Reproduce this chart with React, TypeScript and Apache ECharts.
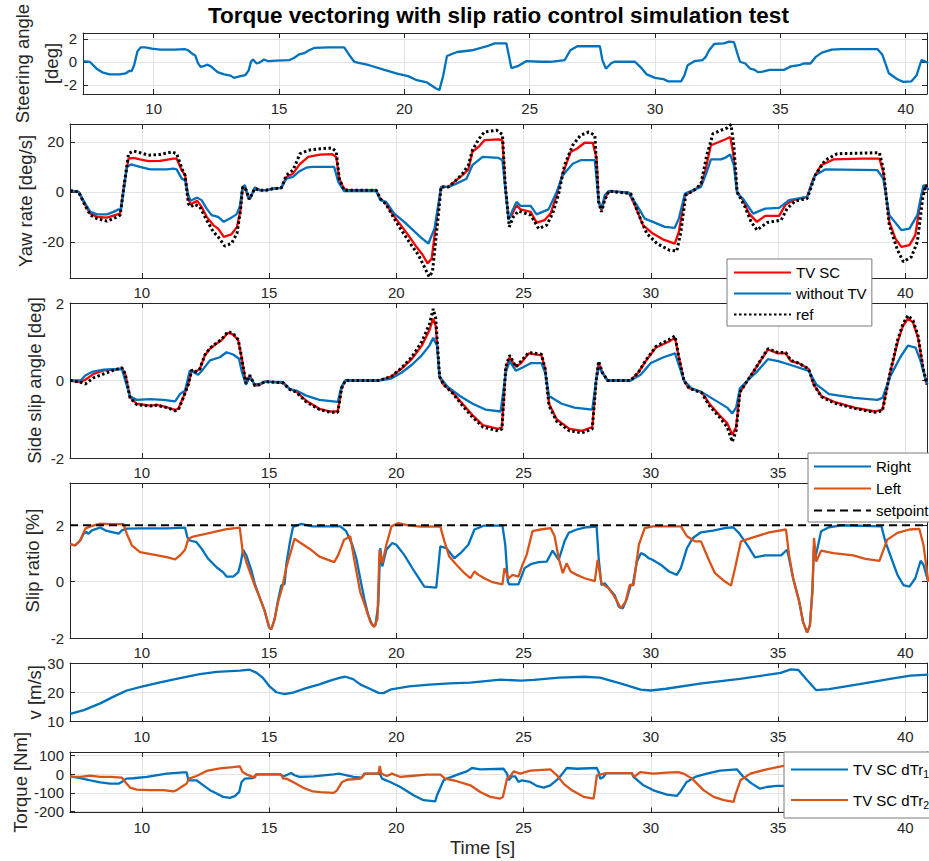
import React, { useEffect, useRef } from "react";
import * as echarts from "echarts";

type Pt = [number, number];

const FONT = "'Liberation Sans', Arial, Helvetica, sans-serif";
const X_MIN = 7.18;
const X_MAX = 40.85;

const chartTitle = "Torque vectoring with slip ratio control simulation test";

// Steering angle [deg]
const steeringAngle: Pt[] = [
  [7.19, 0.05], [7.45, 0], [7.72, -0.6], [7.98, -0.95], [8.24, -1.1], [8.63, -1.1], [8.89, -1.0], [9.02, -0.8], [9.12, -0.8],
  [9.22, -0.3], [9.35, 0.9], [9.48, 1.25], [9.67, 1.25], [9.93, 1.15], [10.26, 1.05], [10.85, 1.05], [11.24, 1.1], [11.37, 1.0],
  [11.57, 0.65], [11.66, 0.55], [11.76, -0.1], [11.87, -0.45], [12.02, -0.35], [12.15, -0.25], [12.28, -0.4], [12.55, -0.9],
  [12.81, -1.1], [13.07, -1.2], [13.2, -1.4], [13.46, -1.25], [13.66, -1.15], [13.79, -0.75], [13.88, 0], [13.96, 0.2],
  [14.11, -0.15], [14.24, -0.05], [14.4, 0.2], [14.57, 0.05], [14.9, 0.1], [15.42, 0.15], [15.61, 0.35], [15.81, 0.65],
  [16.0, 0.75], [16.2, 1.0], [16.4, 1.2], [16.98, 1.25], [17.6, 1.25], [17.8, 0.6], [18.0, 0], [18.6, -0.3], [19.2, -0.7],
  [19.75, -1.05], [20.15, -1.25], [20.5, -1.6], [20.9, -1.8], [21.25, -2.3], [21.4, -2.45], [21.55, -1.2], [21.7, 0.5],
  [22.1, 0.85], [22.7, 1.0], [23.3, 1.35], [23.6, 1.6], [24.07, 1.6], [24.27, -0.55], [24.55, -0.35], [24.86, 0.05],
  [25.45, 0], [25.83, 0], [26.4, 0.15], [26.62, 1.0], [26.9, 1.35], [27.8, 1.35], [27.9, 0.15], [28.04, -0.6], [28.24, -0.15],
  [28.37, 0], [29.2, 0], [29.48, -0.6], [29.67, -1.1], [30.0, -1.4], [30.33, -1.5], [30.52, -1.7], [31.04, -1.7], [31.17, -1.2],
  [31.3, -0.3], [31.57, 0.05], [31.9, 0.15], [32.03, 0.45], [32.16, 1.0], [32.36, 1.55], [32.75, 1.6], [32.95, 1.75],
  [33.15, 1.7], [33.28, 0.75], [33.39, 0], [33.6, -0.15], [33.8, -0.6], [33.98, -0.7], [34.1, -0.9], [34.3, -0.85],
  [34.57, -0.7], [35.16, -0.7], [35.42, -0.4], [35.75, -0.3], [35.93, -0.15], [36.2, -0.15], [36.4, 0.4], [36.66, 0.8],
  [37.05, 1.05], [37.44, 1.1], [38.87, 1.1], [39.07, 0.6], [39.33, -1.0], [39.65, -1.5], [39.9, -1.75], [40.23, -1.7],
  [40.43, -1.2], [40.63, 0.15], [40.76, 0.05], [40.9, -0.1],
];

// Yaw rate [deg/s]
const yawTvSc: Pt[] = [
  [7.19, 0.5], [7.52, 0], [7.78, -5.3], [7.98, -8.7], [8.24, -10], [8.63, -10.3], [8.95, -9.3], [9.15, -8.7], [9.31, 3.3],
  [9.48, 13.3], [9.67, 13.6], [9.93, 13], [10.26, 12.3], [10.72, 12.4], [11.24, 13.3], [11.37, 13.3], [11.57, 8.7], [11.7, 6.7],
  [11.83, -2.7], [11.92, -5], [12.02, -4.4], [12.18, -3.6], [12.35, -6], [12.55, -10], [12.81, -13.3], [13.0, -14.7],
  [13.22, -18], [13.52, -17], [13.74, -14], [13.88, -7.3], [13.96, 1.3], [14.05, 2.3], [14.18, -2.3], [14.27, -2.5],
  [14.44, 1.7], [14.63, 0.7], [14.9, 0.7], [15.16, 1.3], [15.48, 1.6], [15.68, 6], [15.94, 7.3], [16.2, 11], [16.54, 14],
  [17.0, 14.9], [17.48, 15.1], [17.64, 14], [17.76, 5.3], [17.95, 1.1], [18.11, 0.7], [19.21, 0.7], [19.37, -2.7], [19.6, -4.7],
  [19.84, -8.7], [20.08, -12], [20.47, -17.3], [20.79, -22], [21.02, -25], [21.23, -28.7], [21.39, -26.7], [21.57, -12],
  [21.76, 2], [22.05, 2], [22.28, 4], [22.6, 6.7], [22.83, 9], [22.99, 16], [23.23, 18], [23.46, 20.7], [24.02, 21],
  [24.17, 20.7], [24.28, 2.7], [24.41, -10.7], [24.57, -8.7], [24.72, -5.3], [24.88, -7], [25.28, -8], [25.51, -12.3],
  [25.83, -11.3], [26.06, -8.7], [26.3, -1.3], [26.54, 7.3], [26.85, 16], [27.09, 17.3], [27.4, 19.7], [27.72, 19.6],
  [27.87, 13.3], [27.95, -4], [28.06, -7.3], [28.19, -2.7], [28.35, 0.3], [29.13, -0.3], [29.37, -5.3], [29.69, -13.3],
  [30.08, -16.7], [30.47, -19], [30.94, -20.7], [31.1, -16], [31.34, -1.3], [31.73, 0.9], [31.97, 2.7], [32.13, 8],
  [32.36, 18.7], [32.68, 20], [32.91, 21], [33.12, 22], [33.23, 16], [33.39, 0], [33.62, -3.3], [33.86, -8.7], [34.17, -12],
  [34.49, -9.6], [35.04, -9.6], [35.28, -5.3], [35.59, -3.3], [36.14, -2], [36.38, 5.3], [36.69, 10.7], [37.17, 13],
  [38.27, 13.3], [38.98, 13.3], [39.13, 8], [39.37, -12], [39.61, -18.7], [39.84, -22], [40.16, -21.3], [40.39, -17.3],
  [40.63, -1.3], [40.79, 2.7], [40.9, 0.7],
];

const yawNoTv: Pt[] = [
  [7.19, 0.5], [7.52, 0], [7.78, -4.7], [7.98, -8], [8.24, -9], [8.63, -9], [8.89, -8], [9.09, -7], [9.18, -7.3], [9.31, 2],
  [9.41, 10], [9.57, 11], [9.93, 10], [10.33, 9], [10.98, 9], [11.24, 9.3], [11.37, 9], [11.57, 5.3], [11.7, 4.7], [11.83, -1.3],
  [11.92, -3.6], [12.02, -3], [12.18, -2.3], [12.35, -3.3], [12.55, -6.7], [12.74, -9.3], [13.0, -10], [13.22, -12],
  [13.46, -10.7], [13.72, -9], [13.85, -6], [13.96, 2], [14.05, 2.7], [14.18, -2], [14.27, -2.3], [14.44, 1.7], [14.63, 0.7],
  [14.9, 0.7], [15.16, 1.3], [15.48, 1.6], [15.68, 5.3], [15.94, 6], [16.2, 8.3], [16.46, 9.7], [16.7, 10], [17.56, 10],
  [17.72, 4], [17.95, 0.3], [19.21, 0.3], [19.37, -3.3], [19.6, -4], [19.92, -8.7], [20.31, -12], [20.94, -18], [21.26, -20.7],
  [21.5, -14.7], [21.76, 2], [22.05, 2], [22.36, 3.3], [22.76, 5.3], [22.99, 10.7], [23.39, 14], [24.02, 13.6], [24.17, 12.7],
  [24.28, 1.3], [24.41, -11.3], [24.57, -7.3], [24.72, -4], [24.88, -5.6], [25.28, -5.6], [25.51, -9], [25.98, -7], [26.3, 0],
  [26.54, 6.7], [26.93, 11.3], [27.24, 12.7], [27.8, 12.7], [27.95, -4], [28.06, -6.7], [28.19, -1.3], [28.35, 0.3],
  [29.13, -0.3], [29.45, -5.3], [29.76, -10.7], [30.08, -12], [30.55, -14], [30.94, -14.4], [31.1, -10.7], [31.34, -0.7],
  [31.97, 2], [32.2, 8], [32.36, 13], [32.76, 13], [32.91, 13.6], [33.12, 15], [33.26, 10.7], [33.39, -0.7], [33.62, -2.7],
  [34.02, -8.7], [34.49, -6.7], [35.04, -6.4], [35.43, -3.3], [36.14, -2], [36.46, 6.7], [36.85, 9], [38.9, 8.7], [39.13, 5.3],
  [39.37, -9.3], [39.84, -15.3], [40.16, -14.7], [40.47, -9.3], [40.71, 2.7], [40.9, 1],
];

const yawRef: Pt[] = [
  [7.19, 0.5], [7.52, 0], [7.78, -5.6], [7.98, -9.3], [8.24, -10.7], [8.63, -11.7], [8.89, -10.7], [9.15, -9.3], [9.28, 0.7],
  [9.48, 15.3], [9.67, 16.4], [9.93, 15.7], [10.26, 14.7], [10.72, 15], [11.18, 16], [11.37, 15.3], [11.6, 8.7], [11.7, 6.7],
  [11.83, -4.7], [11.92, -6], [12.08, -5], [12.28, -6], [12.55, -11.3], [12.81, -16], [13.0, -18], [13.26, -21.7],
  [13.52, -20.7], [13.74, -16.7], [13.88, -7.3], [13.96, 2], [14.11, 0.7], [14.22, -3], [14.44, 1.3], [14.63, 0.7], [14.9, 0.7],
  [15.16, 1.3], [15.48, 1.6], [15.68, 6.7], [15.94, 8.7], [16.22, 15.3], [16.54, 16.7], [17.0, 17.3], [17.48, 17.6],
  [17.64, 16], [17.76, 5.3], [17.95, 0.7], [19.21, 0.7], [19.37, -2.7], [19.6, -5], [19.84, -9.3], [20.16, -14.7],
  [20.55, -20.7], [20.87, -25.3], [21.1, -30], [21.29, -34], [21.42, -32], [21.61, -13.3], [21.76, 2], [22.05, 2], [22.28, 4],
  [22.6, 7.3], [22.83, 10.7], [22.99, 16.7], [23.23, 21], [23.46, 24], [23.94, 24.7], [24.17, 23], [24.28, 2.7], [24.44, -14],
  [24.6, -10], [24.8, -7.7], [25.28, -9.3], [25.59, -14.7], [25.91, -13.3], [26.14, -8.7], [26.38, -0.7], [26.61, 10.7],
  [26.93, 18.7], [27.24, 22.7], [27.56, 24], [27.8, 22.7], [27.95, -4], [28.06, -8], [28.19, -3.3], [28.35, 0.3],
  [29.21, -0.7], [29.53, -9.3], [29.84, -16.7], [30.24, -20.7], [30.71, -23.3], [31.02, -23.7], [31.18, -16], [31.37, -1.3],
  [31.73, 0.9], [31.97, 3.3], [32.2, 14.7], [32.44, 23.3], [32.76, 24.7], [32.99, 25.6], [33.15, 27], [33.26, 18.7], [33.39, 0],
  [33.7, -6], [33.94, -12], [34.17, -15.3], [34.57, -12.3], [35.12, -11.3], [35.35, -6.7], [35.67, -3.7], [36.14, -2.7],
  [36.46, 6.7], [36.85, 12.7], [37.32, 15.3], [38.98, 15.7], [39.13, 9.3], [39.37, -13.3], [39.69, -23.3], [39.92, -28],
  [40.24, -26], [40.47, -20], [40.68, -2.7], [40.79, 2.7], [40.9, 1],
];

// Side slip angle [deg]
const betaTvSc: Pt[] = [
  [7.19, 0], [7.58, -0.04], [7.78, 0.02], [8.11, 0.17], [8.5, 0.26], [8.96, 0.28], [9.22, 0.32], [9.35, 0.17], [9.54, -0.43],
  [9.8, -0.6], [10.33, -0.65], [10.59, -0.63], [10.98, -0.69], [11.31, -0.76], [11.44, -0.73], [11.63, -0.43], [11.83, -0.09],
  [11.96, 0.26], [12.09, 0.22], [12.28, 0.3], [12.48, 0.65], [12.68, 0.82], [12.94, 0.95], [13.13, 1.04], [13.39, 1.23],
  [13.59, 1.19], [13.79, 1.04], [13.92, 0.6], [14.09, -0.07], [14.24, 0.13], [14.44, -0.13], [14.63, -0.11], [14.83, -0.03],
  [15.55, -0.06], [15.81, -0.22], [16.07, -0.29], [16.46, -0.52], [16.98, -0.73], [17.4, -0.8], [17.7, -0.8], [17.85, -0.2],
  [18.0, 0], [19.3, 0], [19.8, 0.1], [20.2, 0.3], [20.6, 0.55], [21.0, 0.9], [21.3, 1.3], [21.45, 1.6], [21.55, 1.4],
  [21.7, 0.1], [21.85, -0.1], [22.2, -0.3], [22.6, -0.6], [23.0, -0.9], [23.4, -1.15], [24.0, -1.25], [24.15, -1.2],
  [24.3, 0.3], [24.45, 0.6], [24.7, 0.35], [24.9, 0.45], [25.2, 0.7], [25.7, 0.65], [25.85, 0.3], [26.0, -0.6], [26.3, -1.0],
  [26.8, -1.25], [27.3, -1.3], [27.7, -1.2], [27.85, 0.0], [27.95, 0.45], [28.1, 0.2], [28.3, 0], [29.2, 0], [29.5, 0.2],
  [29.8, 0.5], [30.2, 0.85], [30.7, 1.0], [30.95, 1.1], [31.1, 0.6], [31.3, 0], [31.5, -0.2], [32.0, -0.3], [32.3, -0.6],
  [32.7, -0.9], [33.0, -1.1], [33.2, -1.4], [33.35, -1.2], [33.5, -0.3], [33.8, 0], [34.1, 0.3], [34.4, 0.6], [34.6, 0.8],
  [35.0, 0.7], [35.3, 0.7], [35.5, 0.5], [35.8, 0.45], [36.2, 0.3], [36.4, -0.1], [36.7, -0.4], [37.2, -0.55], [38.0, -0.7],
  [38.8, -0.8], [39.1, -0.75], [39.4, 0.2], [39.7, 1.0], [39.9, 1.4], [40.1, 1.6], [40.3, 1.5], [40.5, 1.1], [40.7, 0.3],
  [40.85, -0.1],
];

const betaNoTv: Pt[] = [
  [7.19, 0], [7.6, 0], [7.78, 0.13], [8.04, 0.22], [8.5, 0.28], [8.89, 0.29], [9.22, 0.29], [9.35, 0], [9.54, -0.41],
  [9.8, -0.5], [10.33, -0.48], [10.85, -0.5], [11.31, -0.54], [11.5, -0.35], [11.7, -0.26], [11.89, 0.26], [12.02, 0.22],
  [12.22, 0.15], [12.42, 0.3], [12.68, 0.52], [13.07, 0.6], [13.33, 0.73], [13.59, 0.67], [13.82, 0.56], [13.92, 0.26],
  [14.09, -0.11], [14.24, 0.09], [14.44, -0.1], [14.63, -0.09], [14.83, -0.03], [15.55, -0.04], [15.81, -0.22], [16.07, -0.26],
  [16.46, -0.39], [16.98, -0.5], [17.7, -0.55], [17.85, -0.15], [18.0, 0], [19.3, 0], [19.8, 0.05], [20.2, 0.2], [20.6, 0.4],
  [21.0, 0.65], [21.3, 0.9], [21.45, 1.1], [21.6, 0.9], [21.7, 0.1], [22.0, -0.15], [22.5, -0.4], [23.0, -0.6], [23.5, -0.75],
  [24.1, -0.8], [24.3, 0.2], [24.45, 0.5], [24.7, 0.25], [25.0, 0.35], [25.3, 0.45], [25.7, 0.45], [25.85, 0.2], [26.0, -0.4],
  [26.5, -0.6], [27.0, -0.7], [27.7, -0.75], [27.85, 0.0], [27.95, 0.35], [28.1, 0.2], [28.3, 0], [29.2, 0], [29.6, 0.15],
  [30.0, 0.45], [30.5, 0.6], [30.95, 0.7], [31.1, 0.4], [31.3, 0], [31.6, -0.2], [32.0, -0.3], [32.5, -0.5], [33.0, -0.7],
  [33.2, -0.85], [33.35, -0.7], [33.5, -0.2], [33.8, 0], [34.2, 0.25], [34.6, 0.55], [35.0, 0.5], [35.5, 0.4], [36.2, 0.25],
  [36.5, -0.1], [37.0, -0.35], [38.0, -0.45], [38.9, -0.5], [39.1, -0.45], [39.4, 0.1], [39.8, 0.6], [40.1, 0.9], [40.4, 0.85],
  [40.6, 0.5], [40.8, 0.0], [40.85, -0.1],
];

const betaRef: Pt[] = [
  [7.19, 0], [7.58, -0.04], [7.78, -0.09], [8.11, 0.07], [8.5, 0.17], [8.96, 0.28], [9.22, 0.33], [9.35, 0.17], [9.54, -0.45],
  [9.8, -0.62], [10.33, -0.66], [10.59, -0.64], [10.98, -0.7], [11.31, -0.78], [11.44, -0.75], [11.63, -0.45], [11.83, -0.1],
  [11.96, 0.27], [12.09, 0.22], [12.28, 0.3], [12.48, 0.66], [12.68, 0.84], [12.94, 0.97], [13.13, 1.06], [13.39, 1.26],
  [13.59, 1.21], [13.79, 1.05], [13.92, 0.6], [14.09, -0.07], [14.24, 0.14], [14.44, -0.13], [14.63, -0.11], [14.83, -0.03],
  [15.55, -0.06], [15.81, -0.23], [16.07, -0.3], [16.46, -0.55], [16.98, -0.75], [17.4, -0.82], [17.7, -0.82], [17.85, -0.2],
  [18.0, 0], [19.3, 0], [19.8, 0.1], [20.2, 0.32], [20.6, 0.6], [21.0, 1.0], [21.3, 1.45], [21.45, 1.85], [21.55, 1.6],
  [21.7, 0.1], [21.85, -0.1], [22.2, -0.32], [22.6, -0.65], [23.0, -0.95], [23.4, -1.2], [24.0, -1.3], [24.15, -1.25],
  [24.3, 0.35], [24.45, 0.65], [24.7, 0.35], [24.9, 0.5], [25.2, 0.72], [25.7, 0.68], [25.85, 0.3], [26.0, -0.65],
  [26.3, -1.05], [26.8, -1.3], [27.3, -1.35], [27.7, -1.25], [27.85, 0.0], [27.95, 0.5], [28.1, 0.2], [28.3, 0], [29.2, 0],
  [29.5, 0.2], [29.8, 0.52], [30.2, 0.88], [30.7, 1.05], [30.95, 1.15], [31.1, 0.6], [31.3, 0], [31.5, -0.2], [32.0, -0.32],
  [32.3, -0.65], [32.7, -0.95], [33.0, -1.2], [33.2, -1.58], [33.35, -1.3], [33.5, -0.3], [33.8, 0], [34.1, 0.3], [34.4, 0.62],
  [34.6, 0.82], [35.0, 0.72], [35.3, 0.72], [35.5, 0.52], [35.8, 0.45], [36.2, 0.3], [36.4, -0.1], [36.7, -0.42],
  [37.2, -0.58], [38.0, -0.72], [38.8, -0.82], [39.1, -0.78], [39.4, 0.2], [39.7, 1.05], [39.9, 1.45], [40.1, 1.68],
  [40.3, 1.55], [40.5, 1.15], [40.7, 0.3], [40.85, -0.1],
];

// Slip ratio [%]
const slipRight: Pt[] = [
  [7.19, 1.32], [7.39, 1.29], [7.58, 1.46], [7.72, 1.7], [7.82, 1.76], [7.91, 1.7], [8.04, 1.82], [8.24, 1.88], [8.37, 1.92],
  [8.56, 1.82], [8.83, 1.76], [9.09, 1.7], [9.22, 1.82], [9.41, 1.88], [9.93, 1.89], [10.98, 1.89], [11.7, 1.92], [11.79, 1.58],
  [11.89, 1.46], [12.15, 1.4], [12.35, 1.17], [12.61, 0.81], [12.94, 0.51], [13.2, 0.33], [13.33, 0.18], [13.59, 0.18],
  [13.79, 0.33], [13.88, 0.63], [13.98, 1.13], [14.11, 0.93], [14.31, 0.39], [14.44, -0.08], [14.63, -0.56], [14.83, -1.04],
  [15.0, -1.63], [15.09, -1.69], [15.22, -1.33], [15.35, -0.68], [15.48, -0.14], [15.61, -0.08], [15.68, 0.63], [15.81, 1.35],
  [15.94, 1.94], [16.27, 2.05], [16.7, 1.96], [17.8, 1.96], [18.03, 1.79], [18.27, 1.31], [18.43, 0.83], [18.58, 0.12],
  [18.74, -0.6], [18.9, -1.19], [19.06, -1.55], [19.18, -1.55], [19.29, -0.83], [19.37, 1.19], [19.45, 0.54], [19.61, 1.13],
  [19.84, 1.37], [20.0, 1.31], [20.31, 0.95], [20.71, 0.36], [21.1, -0.18], [21.57, -0.21], [21.73, 1.25], [21.97, 1.19],
  [22.28, 0.83], [22.52, 1.01], [22.83, 1.31], [23.07, 1.85], [23.46, 1.99], [24.17, 1.99], [24.28, 1.31], [24.38, 0],
  [24.44, -0.1], [24.8, -0.1], [25.04, 0.48], [25.28, 0.62], [25.59, 0.69], [25.91, 0.71], [26.14, 1.1], [26.38, 0.77],
  [26.61, 1.43], [26.77, 1.73], [27.09, 1.85], [27.48, 1.93], [27.87, 1.95], [27.95, 0.83], [28.06, -0.12], [28.19, -0.06],
  [28.35, -0.24], [28.58, -0.48], [28.74, -0.89], [28.9, -0.95], [29.06, -0.6], [29.21, -0.12], [29.29, -0.12], [29.45, 0.71],
  [29.61, 1.01], [29.76, 0.95], [29.92, 0.83], [30.08, 0.77], [30.39, 0.6], [30.71, 0.36], [31.02, 0.24], [31.18, 0.48],
  [31.42, 1.19], [31.65, 1.55], [31.97, 1.75], [32.44, 1.81], [32.91, 1.9], [33.23, 1.93], [33.46, 1.73], [33.78, 1.31],
  [34.09, 0.86], [34.49, 0.93], [35.12, 0.93], [35.35, 1.13], [35.43, 0.83], [35.59, 0.12], [35.83, -0.71], [35.98, -1.43],
  [36.14, -1.81], [36.25, -1.55], [36.35, -0.24], [36.41, 1.25], [36.46, 0.83], [36.69, 1.79], [37.0, 1.93], [37.48, 2.0],
  [39.06, 1.96], [39.21, 1.43], [39.45, 0.83], [39.69, 0.24], [39.92, -0.12], [40.16, -0.18], [40.39, 0.12], [40.6, 0.74],
  [40.71, 0.6], [40.9, 0],
];

const slipLeft: Pt[] = [
  [7.19, 1.32], [7.39, 1.29], [7.58, 1.46], [7.78, 1.88], [7.98, 1.96], [8.37, 2.06], [8.76, 2.04], [9.28, 2.04], [9.41, 1.7],
  [9.61, 1.29], [9.93, 1.05], [10.46, 0.96], [10.98, 0.87], [11.31, 0.79], [11.5, 0.93], [11.7, 1.13], [11.83, 1.52],
  [12.02, 1.6], [12.55, 1.7], [13.33, 1.86], [13.85, 1.92], [13.96, 1.1], [14.18, 0.51], [14.44, -0.14], [14.63, -0.56],
  [14.83, -1.04], [15.0, -1.61], [15.09, -1.69], [15.22, -1.33], [15.35, -0.74], [15.52, -0.2], [15.68, 0.51], [15.87, 1.1],
  [16.0, 1.52], [16.2, 1.4], [16.59, 1.17], [16.98, 0.89], [17.56, 0.69], [17.72, 0.95], [17.95, 1.49], [18.19, 1.61],
  [18.35, 0.77], [18.58, -0.36], [18.74, -0.77], [18.98, -1.43], [19.13, -1.61], [19.26, -1.31], [19.34, 1.13], [19.45, 0.65],
  [19.61, 1.31], [19.81, 1.96], [20.08, 2.08], [20.47, 2.0], [20.94, 1.95], [21.73, 1.95], [21.89, 1.43], [22.08, 0.89],
  [22.36, 0.6], [22.68, 0.3], [22.91, 0.12], [23.07, 0.36], [23.23, 0.24], [23.46, 0.12], [23.78, -0.02], [24.17, -0.1],
  [24.25, 0.48], [24.41, 0.12], [24.57, 0.24], [24.8, 0.18], [24.96, 0.6], [25.12, 0.95], [25.35, 1.79], [25.67, 1.85],
  [26.06, 1.9], [26.22, 1.61], [26.38, 0.83], [26.54, 0.3], [26.69, 0.65], [26.85, 0.36], [27.09, 0.24], [27.4, 0.12],
  [27.8, 0.02], [27.91, 0.77], [28.06, -0.06], [28.35, -0.24], [28.58, -0.54], [28.82, -0.95], [29.01, -0.71], [29.17, -0.12],
  [29.32, -0.12], [29.53, 1.31], [29.76, 1.9], [30.08, 1.96], [31.18, 1.96], [31.42, 1.61], [31.73, 1.43], [31.97, 1.43],
  [32.28, 0.77], [32.52, 0.3], [32.83, 0.06], [33.15, -0.14], [33.31, 0.48], [33.54, 1.43], [34.02, 1.57], [34.65, 1.75],
  [35.31, 1.85], [35.43, 0.95], [35.59, 0.12], [35.83, -0.71], [35.98, -1.43], [36.14, -1.81], [36.25, -1.55], [36.35, -0.36],
  [36.41, 1.55], [36.5, 0.71], [36.69, 1.1], [37.17, 1.01], [37.95, 0.93], [38.43, 0.81], [38.98, 0.74], [39.29, 1.49],
  [39.69, 1.73], [40.16, 1.85], [40.55, 1.87], [40.71, 1.31], [40.9, 0],
];

const slipSetpoint = 2;

// Vehicle speed [m/s]
const speed: Pt[] = [
  [7.19, 12.6], [7.72, 13.9], [8.37, 16.2], [8.89, 18.5], [9.41, 20.6], [10.0, 21.9], [10.72, 23.4], [11.5, 24.8],
  [12.28, 26.2], [12.94, 27.0], [13.85, 27.4], [14.24, 27.7], [14.5, 26.7], [14.77, 24.8], [15.03, 21.9], [15.29, 20.0],
  [15.61, 19.4], [15.94, 19.9], [16.46, 21.4], [16.98, 22.7], [17.4, 24.0], [17.8, 25.0], [18.0, 25.3], [18.3, 24.5],
  [18.6, 22.6], [19.0, 21.0], [19.3, 19.8], [19.5, 19.7], [19.8, 21.0], [20.5, 22.0], [21.3, 22.6], [22.1, 23.0], [22.9, 23.3],
  [23.7, 24.0], [24.1, 24.3], [24.9, 24.0], [25.4, 24.2], [26.4, 25.0], [27.4, 25.3], [28.0, 25.0], [28.8, 23.0], [29.6, 20.9],
  [30.0, 20.6], [30.6, 21.2], [32.0, 23.0], [33.5, 24.6], [35.1, 26.6], [35.5, 27.8], [35.8, 27.6], [36.1, 24.5],
  [36.5, 20.7], [37.0, 21.1], [38.2, 22.8], [39.4, 24.6], [40.2, 25.7], [40.9, 26.0],
];

// Torque [Nm]
const torqueDTr1: Pt[] = [
  [7.19, -11], [7.58, -20], [7.98, -32], [8.37, -43], [8.76, -50], [9.09, -50], [9.26, -37], [9.39, -23], [9.67, -21],
  [10.2, -14], [10.98, 4], [11.63, 11], [11.76, 11], [11.83, -32], [12.15, -32], [12.42, -59], [12.68, -85], [12.94, -103],
  [13.2, -121], [13.46, -126], [13.66, -117], [13.83, -94], [13.92, -41], [14.05, -23], [14.37, -20], [14.5, 0], [15.42, 0],
  [15.55, -11], [15.68, -5], [15.87, 7], [16.0, -5], [16.2, -14], [16.75, -11], [17.54, 0], [17.74, 4], [17.93, -2],
  [18.32, -14], [18.65, -18], [18.74, 4], [19.35, 4], [19.44, -23], [19.76, -41], [20.16, -68], [20.68, -112], [21.07, -139],
  [21.53, -145], [21.6, -112], [21.86, -32], [21.99, -23], [22.51, 4], [22.77, 16], [22.97, 34], [23.3, 27], [24.21, 30],
  [24.35, 4], [24.41, -32], [24.54, -11], [24.67, -11], [24.8, -41], [24.93, -32], [25.26, -41], [25.52, -62], [25.79, -71],
  [26.05, -59], [26.37, -23], [26.7, 34], [27.09, 30], [27.88, 34], [27.95, 12], [28.01, -23], [28.14, -14], [28.25, 7],
  [29.25, 7], [29.32, -14], [29.71, -59], [30.1, -86], [30.63, -109], [31.02, -116], [31.15, -95], [31.41, -41], [31.74, -14],
  [32.2, 4], [32.72, 20], [33.38, 27], [33.64, -14], [33.97, -50], [34.29, -77], [34.55, -68], [34.95, -62], [35.21, -62],
  [36.0, -60], [38.0, -55], [40.9, -50],
];

const torqueDTr2: Pt[] = [
  [7.19, -14], [7.58, -14], [7.98, -7], [8.37, -14], [8.76, -14], [9.22, -18], [9.35, -41], [9.54, -71], [9.8, -82],
  [10.33, -85], [10.85, -85], [11.24, -92], [11.37, -85], [11.57, -67], [11.76, -50], [11.85, -23], [12.15, -9], [12.55, 18],
  [13.07, 32], [13.59, 39], [13.85, 43], [13.96, 12], [14.11, 0], [14.31, -11], [14.44, -18], [14.5, 0], [15.48, 0],
  [15.55, -23], [15.68, -23], [15.94, -41], [16.33, -71], [16.72, -92], [17.02, -95], [17.54, -100], [17.67, -86],
  [17.87, -41], [18.06, -29], [18.59, -23], [18.78, 4], [19.3, 4], [19.35, 45], [19.41, 4], [19.63, -9], [19.83, 4],
  [20.16, -14], [20.55, -9], [21.2, -2], [21.73, -2], [21.92, -23], [22.38, -37], [22.91, -59], [23.3, -95], [23.69, -121],
  [24.08, -130], [24.19, -121], [24.35, -23], [24.48, -9], [24.61, 16], [24.87, 4], [25.26, 20], [26.05, 27], [26.31, -5],
  [26.57, -50], [26.9, -86], [27.36, -121], [27.75, -130], [27.81, -77], [27.88, -5], [28.25, 7], [29.25, 7], [29.35, -14],
  [29.58, 12], [30.1, 4], [30.63, 9], [31.09, 12], [31.28, 4], [31.62, -23], [32.08, -86], [32.47, -121], [32.87, -139],
  [33.25, -148], [33.32, -112], [33.52, -32], [33.91, 4], [34.55, 27], [35.21, 45], [36.5, 55], [38.5, 65], [40.9, 70],
];

const BLUE = "#0072BD";
const ORANGE = "#D95319";
const RED = "#FF0000";
const AXIS = "#262626";
const GRID = "#e3e3e3";
const LINE_W = 2.3;

// Layout of the six stacked axes (pixels) with their value ranges;
// `covered` lists x tick values whose labels sit under a legend box.
const panels = [
  { top: 33, height: 61, min: -2.8, max: 2.5, step: 2, label: "Steering angle\n[deg]", gap: 17, lh: 29, covered: [] as number[] },
  { top: 124, height: 154, min: -34.5, max: 27.2, step: 20, label: "Yaw rate [deg/s]", gap: 32, lh: 25, covered: [35] },
  { top: 303, height: 155, min: -2, max: 2, step: 2, label: "Side slip angle [deg]", gap: 23, lh: 25, covered: [40] },
  { top: 483, height: 155, min: -2, max: 3.5, step: 2, label: "Slip ratio [%]", gap: 25, lh: 25, covered: [] as number[] },
  { top: 663, height: 58.5, min: 10, max: 30, step: 10, label: "v [m/s]", gap: 23, lh: 25, covered: [] as number[] },
  { top: 752, height: 60.5, min: -205, max: 120, step: 100, label: "Torque [Nm]", gap: 37, lh: 25, covered: [] as number[] },
];

const aligned = (v: number, step: number) => Math.abs(v / step - Math.round(v / step)) < 1e-9;

function buildOption() {
  const grid = panels.map((p) => ({ left: 70, right: 2, top: p.top, height: p.height }));
  const xAxis: any[] = [];
  const yAxis: any[] = [];
  panels.forEach((p, i) => {
    const isLast = i === panels.length - 1;
    xAxis.push({
      type: "value", gridIndex: i, min: X_MIN, max: X_MAX, minInterval: 5, maxInterval: 5,
      axisLine: { show: true, onZero: false, lineStyle: { color: AXIS, width: 1 } },
      axisTick: { show: true, inside: true, length: 5, lineStyle: { color: AXIS } },
      axisLabel: {
        show: true, showMinLabel: false, showMaxLabel: false, margin: 7, color: AXIS, fontSize: 15, fontFamily: FONT,
        formatter: (v: number) => (p.covered.some((c) => Math.abs(c - v) < 1e-6) ? "" : String(v)),
      },
      splitLine: { show: true, lineStyle: { color: GRID, width: 1 } },
      name: isLast ? "Time [s]" : "",
      nameLocation: "middle",
      nameGap: 25,
      nameMoveOverlap: false,
      nameTextStyle: { color: AXIS, fontSize: 18.5, fontFamily: FONT, padding: [0, 32, 0, 0] },
    });
    xAxis.push({
      type: "value", gridIndex: i, position: "top", min: X_MIN, max: X_MAX, minInterval: 5, maxInterval: 5,
      axisLine: { show: true, onZero: false, lineStyle: { color: AXIS, width: 1 } },
      axisTick: { show: true, inside: true, length: 5, lineStyle: { color: AXIS } },
      axisLabel: { show: false },
      splitLine: { show: false },
    });
    yAxis.push({
      type: "value", gridIndex: i, min: p.min, max: p.max, minInterval: p.step, maxInterval: p.step,
      axisLine: { show: true, onZero: false, lineStyle: { color: AXIS, width: 1 } },
      axisTick: { show: true, inside: true, length: 5, lineStyle: { color: AXIS } },
      axisLabel: {
        show: true, margin: 6, color: AXIS, fontSize: 15, fontFamily: FONT,
        showMinLabel: aligned(p.min, p.step) ? true : false,
        showMaxLabel: aligned(p.max, p.step) ? true : false,
      },
      splitLine: { show: true, lineStyle: { color: GRID, width: 1 } },
      name: p.label,
      nameLocation: "middle",
      nameGap: p.gap,
      nameMoveOverlap: false,
      nameTextStyle: { color: AXIS, fontSize: 18.5, fontFamily: FONT, lineHeight: p.lh },
    });
    yAxis.push({
      type: "value", gridIndex: i, position: "right", min: p.min, max: p.max, minInterval: p.step, maxInterval: p.step,
      axisLine: { show: true, onZero: false, lineStyle: { color: AXIS, width: 1 } },
      axisTick: { show: true, inside: true, length: 5, lineStyle: { color: AXIS } },
      axisLabel: { show: false },
      splitLine: { show: false },
    });
  });

  const line = (name: string, data: Pt[], panel: number, color: string, extra: any = {}) => ({
    type: "line",
    name,
    data,
    xAxisIndex: panel * 2,
    yAxisIndex: panel * 2,
    showSymbol: false,
    symbol: "none",
    clip: true,
    animation: false,
    itemStyle: { color },
    lineStyle: { color, width: LINE_W, ...(extra.lineStyle || {}) },
    z: extra.z ?? 2,
  });

  const dotted = { lineStyle: { width: 3, type: [2.5, 2.5] }, z: 4 };
  const dashed = { lineStyle: { width: 2, type: [8, 5] }, z: 4 };

  const series = [
    line("steering", steeringAngle, 0, BLUE),
    line("TV SC", yawTvSc, 1, RED),
    line("without TV", yawNoTv, 1, BLUE),
    line("ref", yawRef, 1, "#000000", dotted),
    line("TV SC", betaTvSc, 2, RED),
    line("without TV", betaNoTv, 2, BLUE),
    line("ref", betaRef, 2, "#000000", dotted),
    line("Right", slipRight, 3, BLUE),
    line("Left", slipLeft, 3, ORANGE),
    line("setpoint", [[X_MIN, slipSetpoint], [X_MAX, slipSetpoint]], 3, "#000000", dashed),
    line("v", speed, 4, BLUE),
    line("TV SC dTr1", torqueDTr1, 5, BLUE),
    line("TV SC dTr2", torqueDTr2, 5, ORANGE),
  ];

  const legendBase = {
    orient: "vertical",
    itemWidth: 57,
    itemHeight: 14,
    backgroundColor: "#ffffff",
    borderColor: "#7a7a7a",
    borderWidth: 1,
    borderRadius: 0,
    selectedMode: false,
    itemStyle: { opacity: 0, borderWidth: 0 },
    textStyle: { color: "#000000", fontSize: 15, fontFamily: FONT },
    z: 10,
  };

  const legend = [
    { ...legendBase, left: 727, top: 259, padding: [6, 5, 4, 6], itemGap: 6, data: ["TV SC", "without TV", "ref"] },
    { ...legendBase, left: 808, top: 453, padding: [6, 6, 4, 5], itemGap: 7, data: ["Right", "Left", "setpoint"] },
    {
      ...legendBase, left: 784, top: 752, padding: [10, 8, 8, 6], itemGap: 13, data: ["TV SC dTr1", "TV SC dTr2"],
      formatter: (name: string) => `{m|TV SC dTr}{s|${name.slice(-1)}}`,
      textStyle: {
        color: "#000000", fontSize: 15, fontFamily: FONT,
        rich: {
          m: { fontSize: 15, fontFamily: FONT, color: "#000000" },
          s: { fontSize: 10.5, fontFamily: FONT, color: "#000000", padding: [9, 0, 0, 0] },
        },
      },
    },
  ];

  return {
    animation: false,
    backgroundColor: "#ffffff",
    textStyle: { fontFamily: FONT },
    title: {
      text: chartTitle,
      left: 208,
      top: 4,
      padding: 0,
      textStyle: { fontSize: 22.5, fontWeight: "bold", color: "#000000", fontFamily: FONT },
    },
    grid,
    xAxis,
    yAxis,
    legend,
    series,
  };
}

export default function App() {
  const ref = useRef<HTMLDivElement>(null);
  useEffect(() => {
    if (!ref.current) return;
    const chart = echarts.init(ref.current, undefined, { renderer: "svg" });
    chart.setOption(buildOption() as any);
    return () => chart.dispose();
  }, []);
  return (
    <div
      ref={ref}
      style={{ position: "fixed", left: 0, top: 0, width: 929, height: 861, background: "#ffffff" }}
    />
  );
}
